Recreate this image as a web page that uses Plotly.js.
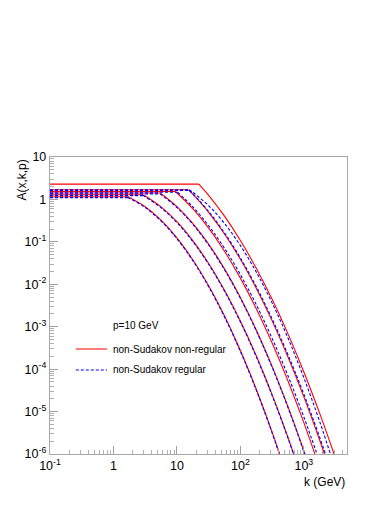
<!DOCTYPE html>
<html>
<head>
<meta charset="utf-8">
<script src="https://cdn.plot.ly/plotly-3.0.1.min.js"></script>
<style>html,body{margin:0;padding:0;background:#fff;}#chart{width:390px;height:505px;}</style>
</head>
<body>
<div id="chart"></div>
<script>
// k values (GeV) and A(x,k,p) values
// solid red: non-Sudakov non-regular (first two points = flat plateau up to the knee)
const kRed1 = [0.1, 1.687, 1.778, 3.162, 5.623, 10, 17.78, 31.62, 56.23, 100, 177.8, 316.2, 562.3];
const aRed1 = [1.156, 1.156, 1.117, 0.6745, 0.324, 0.124, 0.0378, 0.0092, 0.00178, 2.742e-4, 3.365e-5, 3.289e-6, 2.57e-7];
const kRed2 = [0.1, 2.917, 3.162, 5.623, 10, 17.78, 31.62, 56.23, 100, 177.8, 316.2, 562.3, 1000];
const aRed2 = [1.288, 1.288, 1.206, 0.6675, 0.2979, 0.1069, 0.03097, 7.228e-3, 1.358e-3, 2.061e-4, 2.512e-5, 2.472e-6, 1.963e-7];
const kRed3 = [0.1, 5.433, 5.623, 10, 17.78, 31.62, 56.23, 100, 177.8, 316.2, 562.3, 1000, 1778];
const aRed3 = [1.413, 1.413, 1.365, 0.676, 0.2716, 0.0881, 0.02307, 4.898e-3, 8.395e-4, 1.164e-4, 1.306e-5, 1.186e-6, 8.69e-8];
const kRed4 = [0.1, 9.397, 10, 17.78, 31.62, 56.23, 100, 177.8, 316.2, 562.3, 1000, 1778];
const aRed4 = [1.538, 1.538, 1.419, 0.6053, 0.2109, 0.05998, 0.01396, 2.661e-3, 4.14e-4, 5.272e-5, 5.483e-6, 4.656e-7];
const kRed5 = [0.1, 15.14, 17.78, 31.62, 56.23, 100, 177.8, 316.2, 562.3, 1000, 1778, 3162];
const aRed5 = [1.687, 1.687, 1.327, 0.4966, 0.1531, 0.03873, 8.035e-3, 1.374e-3, 1.928e-4, 2.223e-5, 2.109e-6, 1.641e-7];
const kRed6 = [0.1, 22.13, 31.62, 56.23, 100, 177.8, 316.2, 562.3, 1000, 1778, 3162];
const aRed6 = [2.291, 2.291, 1.247, 0.4027, 0.1081, 0.02399, 4.426e-3, 6.776e-4, 8.59e-5, 9.057e-6, 7.907e-7];

// dashed blue: non-Sudakov regular
const kBlue1 = [0.1, 1.687, 1.778, 3.162, 5.623, 10, 17.78, 31.62, 56.23, 100, 177.8, 316.2, 562.3];
const aBlue1 = [1.104, 1.104, 1.067, 0.644, 0.309, 0.1184, 0.0361, 0.00879, 0.0017, 2.62e-4, 3.21e-5, 3.14e-6, 2.45e-7];
const kBlue2 = [0.1, 2.917, 3.162, 5.623, 10, 17.78, 31.62, 56.23, 100, 177.8, 316.2, 562.3, 1000];
const aBlue2 = [1.230, 1.230, 1.152, 0.6375, 0.2845, 0.1021, 0.02958, 6.90e-3, 1.297e-3, 1.968e-4, 2.399e-5, 2.361e-6, 1.875e-7];
const kBlue3 = [0.1, 5.433, 5.623, 10, 17.78, 31.62, 56.23, 100, 177.8, 316.2, 562.3, 1000, 1778];
const aBlue3 = [1.349, 1.349, 1.304, 0.6456, 0.2594, 0.0841, 0.02203, 4.678e-3, 8.017e-4, 1.112e-4, 1.247e-5, 1.133e-6, 8.30e-8];
const kBlue4 = [0.1, 10.23, 17.78, 31.62, 56.23, 100, 177.8, 316.2, 562.3, 1000, 1778];
const aBlue4 = [1.479, 1.479, 0.6683, 0.2399, 0.07047, 0.0169, 3.311e-3, 5.309e-4, 6.966e-5, 7.464e-6, 6.531e-7];
const kBlue5 = [0.1, 15.85, 17.78, 31.62, 56.23, 100, 177.8, 316.2, 562.3, 1000, 1778, 3162];
const aBlue5 = [1.622, 1.622, 1.368, 0.5212, 0.1629, 0.04178, 8.831e-3, 1.531e-3, 2.183e-4, 2.559e-5, 2.466e-6, 1.95e-7];
const kBlue6 = [0.1, 15.49, 17.78, 31.62, 56.23, 100, 177.8, 316.2, 562.3, 1000, 1778, 3162];
const aBlue6 = [1.687, 1.687, 1.469, 0.7112, 0.2716, 0.08185, 0.01945, 3.648e-3, 5.395e-4, 6.295e-5, 5.794e-6, 4.207e-7];

const xTickVals = [0.1, 1, 10, 100, 1000];
const xTickText = ['10<sup>-1</sup>', '1', '10', '10<sup>2</sup>', '10<sup>3</sup>'];
const yTickVals = [1e-6, 1e-5, 1e-4, 1e-3, 1e-2, 1e-1, 1, 10];
const yTickText = ['10<sup>-6</sup>', '10<sup>-5</sup>', '10<sup>-4</sup>', '10<sup>-3</sup>', '10<sup>-2</sup>', '10<sup>-1</sup>', '1', '10'];

const redSets = [[kRed1, aRed1], [kRed2, aRed2], [kRed3, aRed3], [kRed4, aRed4], [kRed5, aRed5], [kRed6, aRed6]];
const blueSets = [[kBlue1, aBlue1], [kBlue2, aBlue2], [kBlue3, aBlue3], [kBlue4, aBlue4], [kBlue5, aBlue5], [kBlue6, aBlue6]];

const traces = [];
function addCurve(s, line) {
  // plateau: straight segment up to the knee
  traces.push({x: s[0].slice(0, 2), y: s[1].slice(0, 2), type: 'scatter', mode: 'lines', line: Object.assign({}, line), hoverinfo: 'skip'});
  // fall-off: smooth curve from the knee on
  traces.push({x: s[0].slice(1), y: s[1].slice(1), type: 'scatter', mode: 'lines', line: Object.assign({shape: 'spline', smoothing: 1}, line), hoverinfo: 'skip'});
}
redSets.forEach(s => addCurve(s, {color: '#ff0000', width: 1.1}));
blueSets.forEach(s => addCurve(s, {color: '#0000ff', width: 1.1, dash: '3px,2px'}));

const F = '"Liberation Sans", Arial, Helvetica, sans-serif';
const axisCommon = {
  type: 'log', showgrid: false, zeroline: false,
  showline: true, linecolor: '#a8a8a8', linewidth: 1.2, mirror: true,
  ticks: 'inside', ticklen: 8, tickcolor: '#a0a0a0', tickwidth: 1,
  tickmode: 'array', tickfont: {family: F, size: 12.5, color: '#000'},
  minor: {ticks: 'inside', ticklen: 4, tickcolor: '#b0b0b0', dtick: 'D1', showgrid: false}
};

const layout = {
  width: 390, height: 505,
  margin: {l: 50, r: 43, t: 157, b: 51},
  paper_bgcolor: '#fff', plot_bgcolor: '#fff',
  showlegend: false,
  xaxis: Object.assign({}, axisCommon, {range: [-1, 3.68], tickvals: xTickVals, ticktext: xTickText}),
  yaxis: Object.assign({}, axisCommon, {range: [-6, 1], tickvals: yTickVals, ticktext: yTickText}),
  shapes: [
    {type: 'line', xref: 'paper', yref: 'paper', x0: 0.087, x1: 0.192, y0: 0.3535, y1: 0.3535, line: {color: '#ff0000', width: 1.1}},
    {type: 'line', xref: 'paper', yref: 'paper', x0: 0.087, x1: 0.192, y0: 0.283, y1: 0.283, line: {color: '#0000ff', width: 1.1, dash: '3px,2px'}}
  ],
  annotations: [
    {xref: 'paper', yref: 'paper', x: 0.207, y: 0.434, xanchor: 'left', yanchor: 'middle', showarrow: false, text: 'p=10 GeV', font: {family: F, size: 10, color: '#000'}},
    {xref: 'paper', yref: 'paper', x: 0.207, y: 0.3535, xanchor: 'left', yanchor: 'middle', showarrow: false, text: 'non-Sudakov non-regular', font: {family: F, size: 10, color: '#000'}},
    {xref: 'paper', yref: 'paper', x: 0.207, y: 0.283, xanchor: 'left', yanchor: 'middle', showarrow: false, text: 'non-Sudakov regular', font: {family: F, size: 10, color: '#000'}},
    {xref: 'paper', yref: 'paper', x: -0.094, y: 0.921, xanchor: 'center', yanchor: 'middle', textangle: -90, showarrow: false, text: 'A(x,k,p)', font: {family: F, size: 12, color: '#000'}},
    {xref: 'paper', yref: 'paper', x: 1.0, y: -0.094, xanchor: 'right', yanchor: 'middle', showarrow: false, text: 'k (GeV)', font: {family: F, size: 12, color: '#000'}}
  ]
};

Plotly.newPlot('chart', traces, layout, {staticPlot: true, displayModeBar: false});
</script>
</body>
</html>
